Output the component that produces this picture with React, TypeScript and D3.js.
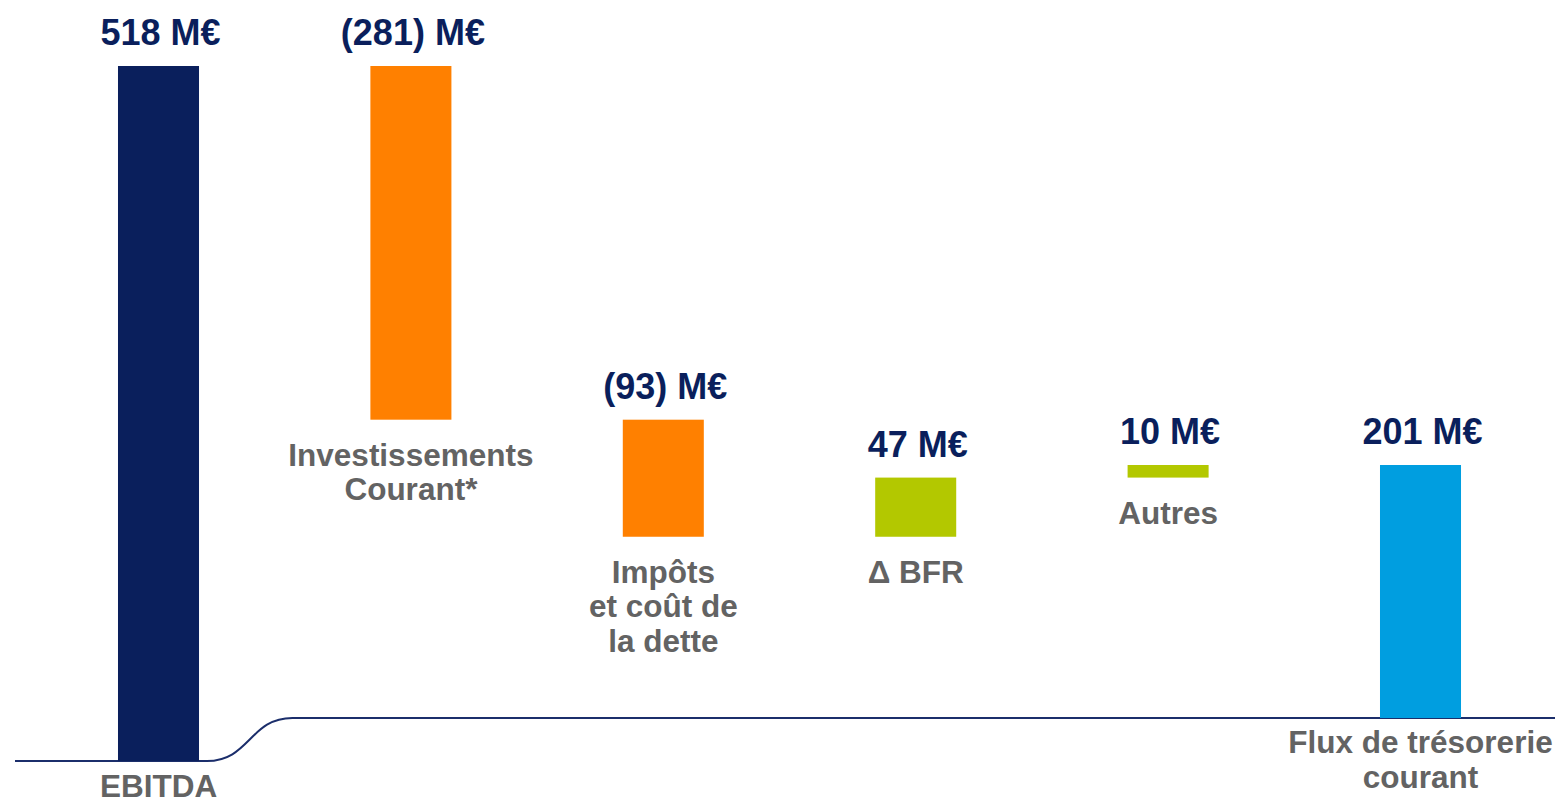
import React from "react";
import * as d3 from "d3";

const width = 1559;
const height = 798;

// waterfall data (M€)
const categories = ["EBITDA", "Investissements Courant*", "Impôts et coût de la dette", "Δ BFR", "Autres", "Flux de trésorerie courant"];
const labelLines = [["EBITDA"], ["Investissements", "Courant*"], ["Impôts", "et coût de", "la dette"], ["Δ BFR"], ["Autres"], ["Flux de trésorerie", "courant"]];
const values = [518, -281, -93, 47, 10, 201];
const kinds = ["total", "delta", "delta", "delta", "delta", "total"];
const valueLabels = ["518 M€", "(281) M€", "(93) M€", "47 M€", "10 M€", "201 M€"];

const colors = {
  total: "#0a1f5c",
  neg: "#ff8000",
  pos: "#b3c800",
  final: "#009ee0",
  text: "#0a1f5c",
  cat: "#636363",
  axis: "#1b2e6b",
};

const font = "'Liberation Sans', Arial, sans-serif";

// compute waterfall segments
let running = 0;
const bars = values.map((v, i) => {
  let y0, y1;
  if (kinds[i] === "total") {
    y0 = 0;
    y1 = v;
    running = v;
  } else {
    y0 = running;
    y1 = running + v;
    running = y1;
  }
  return { cat: categories[i], lo: Math.min(y0, y1), hi: Math.max(y0, y1), v, i };
});

const x = d3.scalePoint().domain(categories).range([32.3, 1546.7]).padding(0.5);
const barW = x.step() * 0.321;
const y = d3.scaleLinear().domain([0, 518]).range([718, 66]);
const breakDrop = 43; // first bar sits on a lowered baseline

const barColor = (d) => {
  if (d.i === 0) return colors.total;
  if (d.i === values.length - 1) return colors.final;
  return d.v < 0 ? colors.neg : colors.pos;
};

export default function App() {
  const base = y(0);
  const x0 = x(categories[0]);
  const x1 = x(categories[1]);
  const curveStart = x0 + barW / 2 + 8;
  const curveEnd = x1 - barW / 2 - 78;
  const mid = (curveStart + curveEnd) / 2;
  const axisPath = `M15,${base + breakDrop} H${curveStart} C${mid},${base + breakDrop} ${mid},${base} ${curveEnd},${base} H1555`;

  return (
    <svg width={width} height={height} style={{ position: "absolute", left: 0, top: 0 }} fontFamily={font}>
      <path d={axisPath} fill="none" stroke={colors.axis} strokeWidth={2} />
      {bars.map((d) => {
        const top = y(d.hi);
        const bottom = d.i === 0 ? base + breakDrop : y(d.lo);
        const cx = x(d.cat);
        const grounded = kinds[d.i] === "total";
        const gap = grounded ? (d.i === 0 ? 36 : 35) : 46;
        return (
          <g key={d.cat}>
            <rect x={cx - barW / 2} y={top} width={barW} height={bottom - top} fill={barColor(d)} />
            <text x={cx + 2} y={top - 21} textAnchor="middle" fontWeight="bold" fontSize={36} fill={colors.text}>
              {valueLabels[d.i]}
            </text>
            <text textAnchor="middle" fontWeight="bold" fontSize={31.5} fill={colors.cat}>
              {labelLines[d.i].map((ln, j) => (
                <tspan key={j} x={cx} y={bottom + gap + j * 34.5}>{ln}</tspan>
              ))}
            </text>
          </g>
        );
      })}
    </svg>
  );
}
